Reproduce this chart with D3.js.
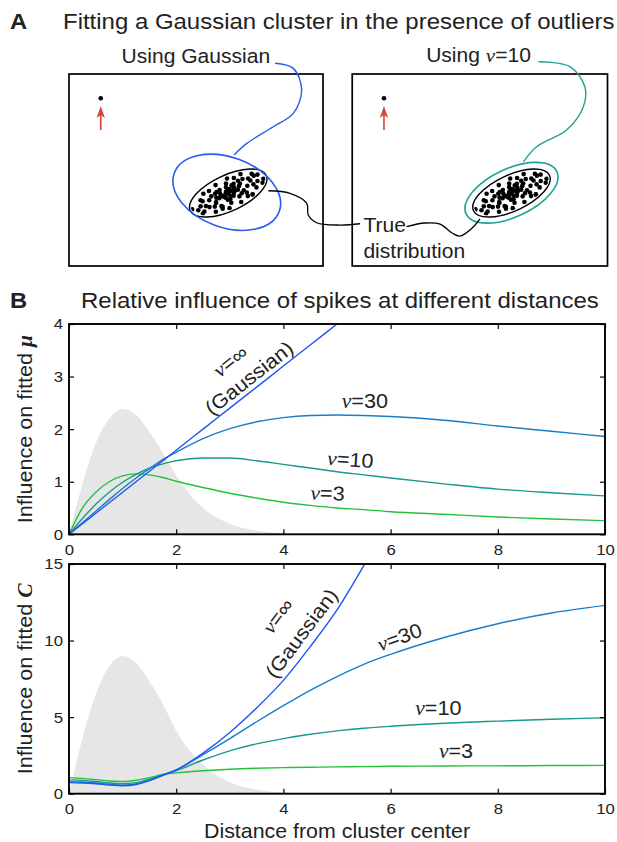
<!DOCTYPE html>
<html>
<head>
<meta charset="utf-8">
<script src="https://cdn.jsdelivr.net/npm/d3@7"></script>
<style>
body { margin: 0; background: #fff; }
text { font-family: "Liberation Sans", Arial, Helvetica, sans-serif; fill: #222; }
.greek { font-family: "Liberation Serif", "Times New Roman", serif; font-style: italic; }
.sym { font-family: "Liberation Serif", "Times New Roman", serif; font-style: italic; font-weight: bold; }
</style>
</head>
<body>
<div id="chart"></div>
<script>
var width = 617;
var height = 842;
var sx = 1.08;   // the figure's font is a little wider than Arial

/* ---------- data: panel B ---------- */
var dist = [0, 0.25, 0.5, 0.75, 1, 1.25, 1.5, 1.75, 2, 2.5, 3, 3.5, 4, 4.5, 5, 5.5, 6, 7, 8, 9, 10];

var muGauss = [0, 0.2, 0.4, 0.6, 0.8, 1.0, 1.2, 1.4, 1.6, 2.0, 2.4, 2.8, 3.2, 3.6, 4.0, 4.4, 4.8, 5.6, 6.4, 7.2, 8.0];
var mu30 = [0, 0.22, 0.44, 0.66, 0.87, 1.07, 1.25, 1.42, 1.56, 1.82, 2.01, 2.14, 2.22, 2.26, 2.27, 2.26, 2.24, 2.17, 2.06, 1.96, 1.86];
var mu10 = [0, 0.3, 0.57, 0.8, 0.99, 1.14, 1.26, 1.34, 1.4, 1.45, 1.45, 1.4, 1.33, 1.26, 1.19, 1.13, 1.07, 0.96, 0.86, 0.79, 0.73];
var mu3 = [0, 0.5, 0.8, 1.0, 1.11, 1.15, 1.13, 1.08, 1.01, 0.89, 0.78, 0.69, 0.61, 0.55, 0.5, 0.47, 0.43, 0.38, 0.33, 0.29, 0.26];
var muDensity = [0, 0.95, 1.73, 2.2, 2.39, 2.27, 1.95, 1.55, 1.12, 0.5, 0.2, 0.07, 0.02, 0, 0, 0, 0, 0, 0, 0, 0];

var covGauss = [0.72, 0.7, 0.65, 0.57, 0.52, 0.6, 0.85, 1.2, 1.55, 2.65, 4.0, 5.6, 7.4, 9.6, 12.0, 14.9, 18.0];
var cov30 = [0.78, 0.76, 0.7, 0.62, 0.56, 0.63, 0.88, 1.2, 1.55, 2.55, 3.6, 4.7, 5.75, 6.75, 7.65, 8.45, 9.1, 10.2, 11.1, 11.8, 12.3];
var cov10 = [0.9, 0.87, 0.8, 0.7, 0.65, 0.72, 0.95, 1.25, 1.5, 2.2, 2.8, 3.25, 3.6, 3.88, 4.1, 4.27, 4.4, 4.6, 4.74, 4.86, 4.96];
var cov3 = [1.05, 1.0, 0.92, 0.83, 0.8, 0.88, 1.05, 1.25, 1.36, 1.5, 1.6, 1.66, 1.7, 1.73, 1.75, 1.77, 1.79, 1.81, 1.82, 1.84, 1.85];
var covDensity = [0, 3.6, 6.5, 8.3, 9.0, 8.55, 7.35, 5.85, 4.1, 1.9, 0.75, 0.26, 0.08, 0, 0, 0, 0, 0, 0, 0, 0];

var xTicks = [0, 2, 4, 6, 8, 10];
var muTicks = [0, 1, 2, 3, 4];
var covTicks = [0, 5, 10, 15];

/* ---------- data: panel A (box units, x 0-100, y 0-75) ---------- */
var clusterX = [62.7, 63.4, 61.7, 64.9, 61.1, 62.5, 65.0, 59.5, 64.8, 62.5, 66.5, 59.2, 64.0, 59.3, 66.9, 58.0,
  68.8, 57.9, 67.1, 58.1, 68.3, 57.4, 61.8, 63.9, 70.2, 55.2, 70.5, 55.3, 72.6, 52.6, 71.9, 53.3, 74.2, 51.8,
  74.2, 50.9, 76.5, 48.5, 64.9, 60.5, 70.4, 55.1, 72.3, 52.9, 62.2, 63.2, 73.8, 51.8, 67.5, 57.8, 66.5, 60.0,
  67.8, 57.7, 72.7, 52.7, 72.3, 63.5, 61.8, 64.3, 61.7, 65.3, 60.1, 61.8, 63.5, 68.0, 57.5, 63.2, 61.6, 67.3,
  57.9, 71.4, 53.9, 76.2, 70.0, 56.0, 64.8, 60.5];
var clusterY = [28.4, 29.3, 28.3, 28.5, 27.0, 30.0, 30.6, 28.2, 27.4, 25.9, 29.8, 26.5, 31.5, 29.7, 31.2, 26.7,
  29.6, 24.6, 27.2, 28.9, 34.0, 23.2, 32.2, 24.7, 31.3, 25.7, 34.2, 23.0, 31.9, 25.3, 36.0, 21.3, 33.2, 23.3,
  35.7, 21.8, 34.1, 22.1, 34.4, 22.4, 27.3, 29.3, 28.0, 28.2, 34.2, 22.6, 30.7, 25.7, 35.9, 21.2, 33.3, 23.4,
  25.0, 31.6, 35.3, 20.4, 27.9, 27.4, 29.0, 29.3, 26.7, 29.4, 27.4, 30.8, 26.1, 28.4, 28.2, 30.1, 27.7, 32.2,
  25.0, 33.4, 23.4, 32.5, 28.7, 27.2, 32.1, 23.1];
var outlier = [12.5, 65.5];

var boxes = [
  { name: "gaussian", x0: 0, x1: 100, fit: { cx: 62.1, cy: 28.8, a: 22, b: 13.7, angle: -20 }, color: "#2a5cf0" },
  { name: "nu10", x0: 111.5, x1: 212, fit: { cx: 62.7, cy: 28.6, a: 19.7, b: 9.4, angle: 25 }, color: "#1ea391" }
];
var trueEllipse = { cx: 62.7, cy: 28.5, a: 16.5, b: 7.0, angle: 25 };

// leader lines (panel A units)
var leaderGauss = [[81.1, 79.2], [88.3, 77.2], [91.6, 68.8], [88.3, 59.6], [80.4, 54.4], [70.0, 47.9], [65.0, 43.4]];
var leaderNu = [[184.8, 79.8], [197.2, 77.9], [203.1, 70.0], [202.5, 62.2], [195.9, 53.1], [184.1, 46.6], [178.9, 40.7]];
var leaderTrueL = [[78.5, 29.4], [87.0, 28.4], [93.6, 24.5], [94.2, 19.9], [97.5, 16.9], [106.7, 16.0], [114.6, 16.5]];
var leaderTrueR = [[132.9, 15.4], [140.1, 16.8], [146.1, 16.4], [150.8, 12.9], [153.9, 11.7], [158.7, 14.8], [161.8, 18.4]];

/* ---------- svg ---------- */
var svg = d3.select("#chart").append("svg")
    .attr("width", width)
    .attr("height", height);

function addText(parent, x, y, parts, opt) {
    opt = opt || {};
    var t = parent.append("text")
        .attr("transform", "translate(" + x + "," + y + ")" +
            (opt.rotate ? " rotate(" + opt.rotate + ")" : "") + " scale(" + sx + ",1)")
        .attr("font-size", opt.size || 19.5)
        .attr("text-anchor", opt.anchor || "start");
    if (opt.bold) t.attr("font-weight", "bold");
    if (typeof parts === "string") parts = [[parts]];
    parts.forEach(function(p) {
        var s = t.append("tspan").text(p[0]);
        if (p[1]) s.attr("class", p[1]);
    });
    return t;
}

/* ---------- panel A ---------- */
addText(svg, 10, 29, "A", { size: 22, bold: true });
addText(svg, 63, 29, "Fitting a Gaussian cluster in the presence of outliers", { size: 22.2 });

var xA = d3.scaleLinear().domain([0, 212]).range([69, 607.5]);
var yA = d3.scaleLinear().domain([0, 75]).range([266, 74]);
var kx = xA(1) - xA(0);
var ky = yA(0) - yA(1);

var gA = svg.append("g");

function drawEllipse(g, e, x0, color, sw) {
    var cx = xA(x0 + e.cx), cy = yA(e.cy);
    g.append("ellipse")
        .attr("cx", cx).attr("cy", cy)
        .attr("rx", e.a * kx).attr("ry", e.b * ky)
        .attr("transform", "rotate(" + (-e.angle) + "," + cx + "," + cy + ")")
        .attr("fill", "none")
        .attr("stroke", color)
        .attr("stroke-width", sw);
}

var leaderLine = d3.line()
    .x(d => xA(d[0]))
    .y(d => yA(d[1]))
    .curve(d3.curveCatmullRom.alpha(0.5));

boxes.forEach(function(b) {
    gA.append("rect")
        .attr("x", xA(b.x0)).attr("y", yA(75))
        .attr("width", xA(b.x1) - xA(b.x0)).attr("height", yA(0) - yA(75))
        .attr("fill", "none").attr("stroke", "#000").attr("stroke-width", 1.7);

    gA.append("g").selectAll("circle")
        .data(d3.range(clusterX.length)).enter()
        .append("circle")
        .attr("cx", i => xA(b.x0 + clusterX[i]))
        .attr("cy", i => yA(clusterY[i]))
        .attr("r", 2.3)
        .attr("fill", "#000");

    drawEllipse(gA, trueEllipse, b.x0, "#fff", 3);
    drawEllipse(gA, trueEllipse, b.x0, "#000", 1.4);
    drawEllipse(gA, b.fit, b.x0, b.color, 1.6);

    // outlier + arrow
    var ox = xA(b.x0 + outlier[0]);
    gA.append("circle")
        .attr("cx", ox).attr("cy", yA(outlier[1]))
        .attr("r", 2.3).attr("fill", "#000");
    var tail = yA(53.1), tip = yA(62.5);
    gA.append("line")
        .attr("x1", ox).attr("x2", ox)
        .attr("y1", tail).attr("y2", tip + 6)
        .attr("stroke", "#d8433b").attr("stroke-width", 1.6);
    gA.append("path")
        .attr("d", "M" + ox + "," + tip + " L" + (ox + 4.2) + "," + (tip + 12) +
            " L" + ox + "," + (tip + 9) + " L" + (ox - 4.2) + "," + (tip + 12) + " Z")
        .attr("fill", "#d8433b");
});

gA.append("path").attr("d", leaderLine(leaderGauss))
    .attr("fill", "none").attr("stroke", boxes[0].color).attr("stroke-width", 1.4);
gA.append("path").attr("d", leaderLine(leaderNu))
    .attr("fill", "none").attr("stroke", boxes[1].color).attr("stroke-width", 1.4);
gA.append("path").attr("d", leaderLine(leaderTrueL))
    .attr("fill", "none").attr("stroke", "#000").attr("stroke-width", 1.3);
gA.append("path").attr("d", leaderLine(leaderTrueR))
    .attr("fill", "none").attr("stroke", "#000").attr("stroke-width", 1.3);

addText(gA, xA(20.7), yA(79.3), "Using Gaussian");
addText(gA, xA(140.6), yA(79.6), [["Using "], ["ν", "greek"], ["=10"]]);
addText(gA, xA(115.9), yA(13.4), "True");
addText(gA, xA(115.9), yA(3.0), "distribution");

/* ---------- panel B ---------- */
addText(svg, 10, 308, "B", { size: 22, bold: true });
addText(svg, 81, 308, "Relative influence of spikes at different distances", { size: 22.2 });

var seriesColors = { gauss: "#1f55f2", n30: "#1a7dc6", n10: "#179a8c", n3: "#22c23c" };

function drawPlot(cfg) {
    var x = d3.scaleLinear().domain([0, 10]).range([69, 605]);
    var y = d3.scaleLinear().domain([0, cfg.ymax]).range([cfg.bottom, cfg.top]);
    var g = svg.append("g");

    g.append("clipPath").attr("id", cfg.id)
        .append("rect")
        .attr("x", x(0)).attr("y", y(cfg.ymax))
        .attr("width", x(10) - x(0)).attr("height", y(0) - y(cfg.ymax));

    var plot = g.append("g").attr("clip-path", "url(#" + cfg.id + ")");

    var area = d3.area()
        .x(d => x(d[0]))
        .y0(y(0))
        .y1(d => y(d[1]))
        .curve(d3.curveMonotoneX);
    plot.append("path")
        .attr("d", area(d3.zip(dist, cfg.density)))
        .attr("fill", "#e6e6e6");

    var line = d3.line()
        .x(d => x(d[0]))
        .y(d => y(d[1]))
        .curve(d3.curveMonotoneX);

    plot.selectAll(".curve")
        .data(cfg.series).enter()
        .append("path")
        .attr("class", "curve")
        .attr("d", s => line(d3.zip(dist, s.values)))
        .attr("fill", "none")
        .attr("stroke", s => s.color)
        .attr("stroke-width", 1.4);

    // axes with inward ticks on all four sides
    var fmt = d3.format("d");
    var xb = g.append("g").attr("transform", "translate(0," + y(0) + ")")
        .call(d3.axisBottom(x).tickValues(xTicks).tickSizeInner(-5).tickSizeOuter(0).tickPadding(9.5).tickFormat(fmt));
    var xt = g.append("g").attr("transform", "translate(0," + y(cfg.ymax) + ")")
        .call(d3.axisTop(x).tickValues(xTicks).tickSizeInner(-5).tickSizeOuter(0).tickFormat(""));
    var yl = g.append("g").attr("transform", "translate(" + x(0) + ",0)")
        .call(d3.axisLeft(y).tickValues(cfg.yTicks).tickSizeInner(-5).tickSizeOuter(0).tickPadding(5.6).tickFormat(fmt));
    var yr = g.append("g").attr("transform", "translate(" + x(10) + ",0)")
        .call(d3.axisRight(y).tickValues(cfg.yTicks).tickSizeInner(-5).tickSizeOuter(0).tickFormat(""));

    [xb, xt, yl, yr].forEach(function(a) {
        a.select(".domain").remove();
        a.selectAll("line").attr("stroke", "#000").attr("stroke-width", 1.2);
        a.selectAll("text")
            .attr("font-size", 15.5)
            .attr("font-family", "Liberation Sans, Arial, sans-serif")
            .attr("fill", "#222")
            .attr("transform", "scale(" + sx + ",1)");
    });

    g.append("rect")
        .attr("x", x(0)).attr("y", y(cfg.ymax))
        .attr("width", x(10) - x(0)).attr("height", y(0) - y(cfg.ymax))
        .attr("fill", "none").attr("stroke", "#000").attr("stroke-width", 1.9);

    cfg.labels.forEach(function(l) {
        addText(g, x(l.d), y(l.v), l.parts, { anchor: "middle", rotate: l.rot || 0, size: 20 });
    });

    addText(svg, 32, (cfg.top + cfg.bottom) / 2, [["Influence on fitted "], [cfg.sym, "sym"]],
        { anchor: "middle", rotate: -90, size: 20 });

    return x;
}

drawPlot({
    id: "clipMu", ymax: 4, top: 324, bottom: 534.3, yTicks: muTicks, density: muDensity, sym: "μ",
    series: [
        { values: mu3, color: seriesColors.n3 },
        { values: mu10, color: seriesColors.n10 },
        { values: mu30, color: seriesColors.n30 },
        { values: muGauss, color: seriesColors.gauss }
    ],
    labels: [
        { d: 3.09, v: 3.19, rot: -38, parts: [["ν", "greek"], ["=∞"]] },
        { d: 3.44, v: 2.87, rot: -38, parts: [["(Gaussian)"]] },
        { d: 5.52, v: 2.41, parts: [["ν", "greek"], ["=30"]] },
        { d: 5.24, v: 1.29, rot: 4, parts: [["ν", "greek"], ["=10"]] },
        { d: 4.82, v: 0.65, rot: 2, parts: [["ν", "greek"], ["=3"]] }
    ]
});

var xB = drawPlot({
    id: "clipCov", ymax: 15, top: 564, bottom: 793.7, yTicks: covTicks, density: covDensity, sym: "C",
    series: [
        { values: cov3, color: seriesColors.n3 },
        { values: cov10, color: seriesColors.n10 },
        { values: cov30, color: seriesColors.n30 },
        { values: covGauss, color: seriesColors.gauss }
    ],
    labels: [
        { d: 4.0, v: 11.33, rot: -53, parts: [["ν", "greek"], ["=∞"]] },
        { d: 4.44, v: 10.2, rot: -53, parts: [["(Gaussian)"]] },
        { d: 6.21, v: 9.8, rot: -20, parts: [["ν", "greek"], ["=30"]] },
        { d: 6.89, v: 5.13, parts: [["ν", "greek"], ["=10"]] },
        { d: 7.22, v: 2.35, parts: [["ν", "greek"], ["=3"]] }
    ]
});

addText(svg, xB(5), 838, "Distance from cluster center", { anchor: "middle", size: 19.8 });
</script>
</body>
</html>
